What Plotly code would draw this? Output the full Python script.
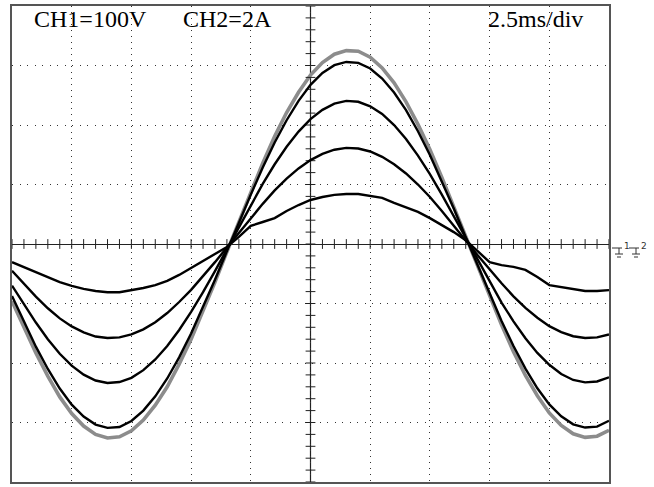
import plotly.graph_objects as go

# ---- data ----
time_ms = [0.0, 0.5, 1.0, 1.5, 2.0, 2.5, 3.0, 3.5, 4.0, 4.5, 5.0, 5.5, 6.0, 6.5, 7.0, 7.5, 8.0, 8.5, 9.0, 9.5,
           10.0, 10.5, 11.0, 11.5, 12.0, 12.5, 13.0, 13.5, 14.0, 14.5, 15.0, 15.5, 16.0, 16.5, 17.0, 17.5, 18.0,
           18.5, 19.0, 19.5, 20.0, 20.5, 21.0, 21.5, 22.0, 22.5, 23.0, 23.5, 24.0, 24.5, 25.0]

voltage_v = [-96, -140, -183, -222, -257, -285, -306, -320, -326, -324, -314, -296, -271, -240, -202, -160, -113,
             -64, -13, 38, 88, 136, 181, 221, 255, 284, 305, 319, 325, 324, 314, 296, 271, 239, 201, 159, 112, 63,
             12, -38, -88, -136, -181, -221, -255, -284, -305, -319, -325, -323, -313]

current_1 = [-1.75, -2.62, -3.45, -4.20, -4.86, -5.40, -5.80, -6.07, -6.18, -6.15, -5.95, -5.60, -5.12, -4.52,
             -3.81, -3.01, -2.13, -1.20, -0.24, 0.72, 1.66, 2.57, 3.41, 4.16, 4.81, 5.35, 5.75, 6.01, 6.12, 6.09,
             5.90, 5.56, 5.09, 4.50, 3.79, 2.99, 2.12, 1.19, 0.23, -0.73, -1.68, -2.59, -3.43, -4.19, -4.85, -5.39,
             -5.79, -6.06, -6.17, -6.14, -5.94]

current_2 = [-1.40, -2.02, -2.64, -3.20, -3.69, -4.09, -4.39, -4.59, -4.67, -4.64, -4.50, -4.24, -3.88, -3.43,
             -2.89, -2.28, -1.62, -0.91, -0.18, 0.57, 1.31, 2.02, 2.68, 3.27, 3.78, 4.20, 4.51, 4.72, 4.81, 4.78,
             4.63, 4.37, 4.00, 3.53, 2.97, 2.35, 1.66, 0.93, 0.18, -0.56, -1.28, -1.97, -2.60, -3.17, -3.66, -4.06,
             -4.37, -4.57, -4.65, -4.62, -4.48]

current_3 = [-0.90, -1.34, -1.77, -2.16, -2.50, -2.77, -2.97, -3.11, -3.16, -3.14, -3.04, -2.87, -2.63, -2.32,
             -1.95, -1.54, -1.09, -0.61, -0.12, 0.38, 0.88, 1.35, 1.80, 2.20, 2.54, 2.82, 3.03, 3.17, 3.23, 3.21,
             3.11, 2.93, 2.68, 2.37, 2.00, 1.58, 1.11, 0.63, 0.12, -0.38, -0.86, -1.32, -1.76, -2.15, -2.48, -2.76,
             -2.96, -3.10, -3.16, -3.14, -3.04]

current_4 = [-0.61, -0.78, -0.94, -1.11, -1.28, -1.41, -1.51, -1.58, -1.62, -1.62, -1.55, -1.48, -1.38, -1.24,
             -1.04, -0.81, -0.57, -0.34, -0.10, 0.24, 0.61, 0.74, 0.87, 1.11, 1.31, 1.48, 1.58, 1.65, 1.68, 1.68,
             1.61, 1.55, 1.38, 1.24, 1.08, 0.87, 0.64, 0.40, 0.13, -0.24, -0.61, -0.71, -0.77, -0.87, -1.11, -1.38,
             -1.45, -1.51, -1.58, -1.58, -1.55]

labels = ["CH1=100V", "CH2=2A", "2.5ms/div"]

X_RANGE = [0, 25]        # 10 div x 2.5 ms
V_RANGE = [-400, 400]    # 8 div x 100 V
A_RANGE = [-8, 8]        # 8 div x 2 A

# ---- figure ----
W, H = 654, 487
ML, MR, MT, MB = 12, 45, 6, 5
PW, PH = W - ML - MR, H - MT - MB


def px(x):
    return (x - ML) / PW


def py(y):
    return (H - MB - y) / PH


fig = go.Figure()

fig.add_trace(go.Scatter(x=time_ms, y=voltage_v, mode="lines", yaxis="y",
                         line=dict(color="#8c8c8c", width=3.6), hoverinfo="skip"))
for cur in [current_1, current_2, current_3, current_4]:
    fig.add_trace(go.Scatter(x=time_ms, y=cur, mode="lines", yaxis="y2",
                             line=dict(color="#000000", width=2.4), hoverinfo="skip"))

# graticule tick marks on the centre cross (every 1/5 division)
tick_x = [X_RANGE[0] + i * 0.5 for i in range(51)]
tick_y = [V_RANGE[0] + i * 20 for i in range(41)]
fig.add_trace(go.Scatter(x=tick_x, y=[0] * len(tick_x), mode="markers", yaxis="y",
                         marker=dict(symbol="line-ns", size=7, line=dict(color="#222", width=1)),
                         hoverinfo="skip"))
fig.add_trace(go.Scatter(x=[12.5] * len(tick_y), y=tick_y, mode="markers", yaxis="y",
                         marker=dict(symbol="line-ew", size=7, line=dict(color="#222", width=1)),
                         hoverinfo="skip"))

shapes = [dict(type="line", xref="x", yref="paper", x0=12.5, x1=12.5, y0=0, y1=1,
               line=dict(color="#222", width=1.2), layer="below")]

# ground reference markers at right edge
for off in [0, 17]:
    segs = [((612 + off, 248), (622 + off, 248)),
            ((619 + off, 248), (619 + off, 254)),
            ((615 + off, 254), (623 + off, 254)),
            ((617 + off, 257), (621 + off, 257))]
    for (a, b) in segs:
        shapes.append(dict(type="line", xref="paper", yref="paper",
                           x0=px(a[0]), y0=py(a[1]), x1=px(b[0]), y1=py(b[1]),
                           line=dict(color="#333", width=1)))

font_main = dict(family="Liberation Serif", size=24, color="black")
annotations = [
    dict(text=labels[0], x=px(90), y=py(19), xref="paper", yref="paper", showarrow=False,
         xanchor="center", yanchor="middle", font=font_main),
    dict(text=labels[1], x=px(227), y=py(19), xref="paper", yref="paper", showarrow=False,
         xanchor="center", yanchor="middle", font=font_main),
    dict(text=labels[2], x=px(535), y=py(19), xref="paper", yref="paper", showarrow=False,
         xanchor="center", yanchor="middle", font=font_main),
    dict(text="1", x=px(627), y=py(246), xref="paper", yref="paper", showarrow=False,
         xanchor="center", yanchor="middle", font=dict(family="DejaVu Sans", size=9, color="#333")),
    dict(text="2", x=px(644), y=py(246), xref="paper", yref="paper", showarrow=False,
         xanchor="center", yanchor="middle", font=dict(family="DejaVu Sans", size=9, color="#333")),
]

fig.update_layout(
    width=W, height=H,
    margin=dict(l=ML, r=MR, t=MT, b=MB, pad=0),
    paper_bgcolor="white", plot_bgcolor="white",
    showlegend=False,
    xaxis=dict(range=X_RANGE, dtick=2.5, tick0=0, showgrid=True, gridcolor="#333", gridwidth=1,
               griddash="1px,5px", showticklabels=False, ticks="", zeroline=False,
               showline=True, mirror=True, linecolor="#555", linewidth=1.5, fixedrange=True),
    yaxis=dict(range=V_RANGE, dtick=100, tick0=0, showgrid=True, gridcolor="#333", gridwidth=1,
               griddash="1px,6.5px", showticklabels=False, ticks="", zeroline=True,
               zerolinecolor="#222", zerolinewidth=1.2,
               showline=True, mirror=True, linecolor="#555", linewidth=1.5, fixedrange=True),
    yaxis2=dict(range=A_RANGE, overlaying="y", visible=False, showgrid=False, zeroline=False,
                fixedrange=True),
    shapes=shapes,
    annotations=annotations,
)

fig.write_html("out.html", config={"displayModeBar": False},
               post_script="document.body.style.margin='0px';document.body.style.padding='0px';")
